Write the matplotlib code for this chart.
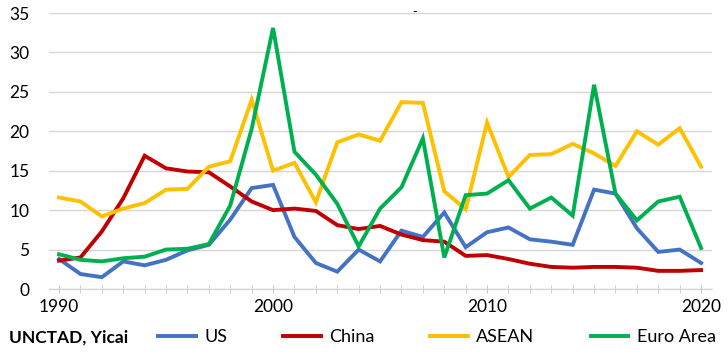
import matplotlib.pyplot as plt
from matplotlib.ticker import MultipleLocator

# data (1990-2020)
years = list(range(1990, 2021))

us = [3.8, 1.9, 1.5, 3.5, 3.0, 3.7, 4.9, 5.6, 8.8, 12.8,
      13.2, 6.6, 3.3, 2.2, 5.0, 3.5, 7.4, 6.6, 9.7, 5.3,
      7.2, 7.8, 6.3, 6.0, 5.6, 12.6, 12.1, 7.7, 4.7, 5.0, 3.3]
china = [3.6, 4.0, 7.3, 11.5, 16.9, 15.3, 14.9, 14.8, 13.0, 11.1,
         10.0, 10.2, 9.9, 8.1, 7.6, 8.0, 6.9, 6.2, 6.0, 4.2,
         4.3, 3.8, 3.2, 2.8, 2.7, 2.8, 2.8, 2.7, 2.3, 2.3, 2.4]
asean = [11.6, 11.1, 9.2, 10.2, 10.9, 12.6, 12.7, 15.5, 16.2, 24.0,
         15.0, 16.0, 11.0, 18.6, 19.6, 18.8, 23.7, 23.6, 12.4, 10.1,
         21.1, 14.2, 17.0, 17.1, 18.4, 17.2, 15.6, 20.0, 18.3, 20.4, 15.5]
euro = [4.4, 3.7, 3.5, 3.9, 4.1, 5.0, 5.1, 5.7, 10.6, 20.3,
        33.1, 17.4, 14.5, 10.8, 5.4, 10.2, 12.9, 19.1, 4.0, 11.9,
        12.1, 13.8, 10.2, 11.6, 9.3, 25.9, 12.1, 8.7, 11.1, 11.7, 5.2]

labels = ["US", "China", "ASEAN", "Euro Area"]
colors = ["#4472C4", "#C00000", "#FFC000", "#00B050"]

plt.rcParams["font.family"] = ["Lato", "DejaVu Sans"]

fig = plt.figure(figsize=(7.28, 3.55), dpi=100)
ax = fig.add_axes([49 / 728, 1 - 289 / 355, 663 / 728, 276 / 355])

for series, lab, col in zip([us, china, asean, euro], labels, colors):
    ax.plot(years, series, color=col, lw=2.8, label=lab, solid_joinstyle="miter")

ax.set_ylim(0, 35)
ax.set_xlim(1989.53, 2020.51)
ax.yaxis.set_major_locator(MultipleLocator(5))
ax.xaxis.set_major_locator(MultipleLocator(10))
ax.xaxis.set_minor_locator(MultipleLocator(1))
ax.grid(axis="y", color="#d6d6d6", lw=1)
ax.set_axisbelow(True)

for s in ["top", "right", "left"]:
    ax.spines[s].set_visible(False)
ax.spines["bottom"].set_color("#d0d0d0")
ax.tick_params(axis="y", length=0, labelsize=12.5, pad=14)
ax.tick_params(axis="x", which="both", direction="inout", color="#c8c8c8",
               length=6, labelsize=12.5, pad=4)

fig.text(0.012, 0.05, "UNCTAD, Yicai", fontsize=12.5, fontweight="bold",
         va="center", ha="left")
fig.legend(loc="center left", bbox_to_anchor=(0.217, 0.05), ncol=4,
           frameon=False, fontsize=13, handlelength=2.1, handletextpad=0.45,
           columnspacing=3.1, borderpad=0, borderaxespad=0)
fig.text(0.57, 0.965, "-", fontsize=9, ha="center", va="center")

fig.savefig("out.png", dpi=100)
